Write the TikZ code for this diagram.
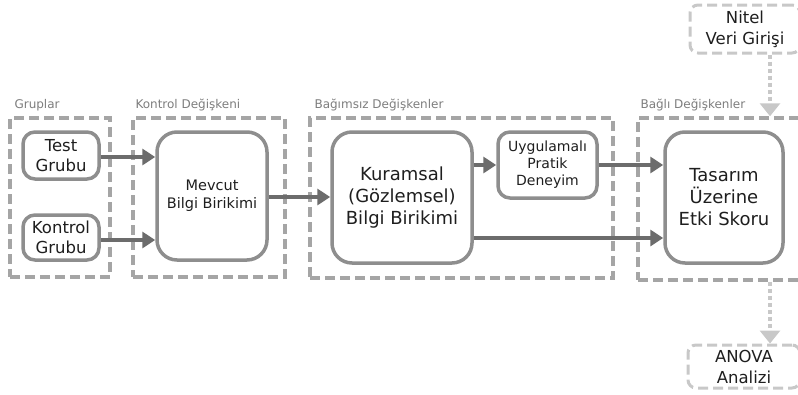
\documentclass[tikz,border=0pt]{standalone}
\usepackage{fontspec}
\setmainfont{DejaVu Sans}
\definecolor{arrowgray}{RGB}{108,108,108}
\definecolor{boxgray}{RGB}{142,142,142}
\definecolor{groupgray}{RGB}{165,165,165}
\definecolor{lightgray}{RGB}{200,200,200}
\definecolor{labelgray}{RGB}{125,125,125}
\definecolor{textgray}{RGB}{30,30,30}
\usetikzlibrary{arrows.meta}

\begin{document}
\begin{tikzpicture}[x=1pt,y=-1pt,
    varbox/.style={draw=boxgray,line width=3.5pt,rounded corners=12pt,align=center,
      text=textgray,inner sep=0pt,font=\fontsize{16.5}{19.5}\selectfont},
    groupbox/.style={draw=groupgray,line width=3.5pt,dash pattern=on 10pt off 5pt,
      minimum width=#1,inner sep=0pt},
    datbox/.style={draw=lightgray,line width=3pt,dash pattern=on 10pt off 5pt,rounded corners=8pt,
      align=center,text=textgray,inner sep=0pt,font=\fontsize{16.5}{21}\selectfont},
    grouplabel/.style={anchor=base west,text=labelgray,font=\fontsize{12}{14}\selectfont},
    flow/.style={draw=arrowgray,line width=3.5pt,-{Triangle[length=13pt,width=16pt]}},
    dotflow/.style={draw=lightgray,line width=4pt,dash pattern=on 4pt off 3pt,
      -{Triangle[length=13pt,width=20pt]}}]
  \useasboundingbox (0,0) rectangle (798,394);
  \clip (0,0) rectangle (798,394);
  % groups
  \node[groupbox=100pt,minimum height=159pt] (gruplar) at (60,197.5) {};
  \node[groupbox=152pt,minimum height=159pt] (kontrolg) at (209,197.5) {};
  \node[groupbox=303pt,minimum height=160pt] (bagimsiz) at (461.5,198) {};
  \node[groupbox=172pt,minimum height=162pt] (bagli) at (724,199) {};
  \node[grouplabel] at (11,108) {Gruplar};
  \node[grouplabel] at (132,108) {Kontrol Değişkeni};
  \node[grouplabel] at (311,108) {Bağımsız Değişkenler};
  \node[grouplabel] at (637,108) {Bağlı Değişkenler};
  % variables
  \node[varbox,minimum width=76pt,minimum height=47pt] (test) at (61,155.5) {Test\\Grubu};
  \node[varbox,minimum width=76pt,minimum height=45pt] (kontrol) at (61,237.5) {Kontrol\\Grubu};
  \node[varbox,minimum width=110pt,minimum height=128pt,rounded corners=20pt,
    font=\fontsize{14.5}{18}\selectfont] (mevcut) at (212,196) {Mevcut\\Bilgi Birikimi};
  \node[varbox,minimum width=140pt,minimum height=131pt,rounded corners=20pt,
    font=\fontsize{18}{22}\selectfont] (kuramsal) at (402,197.5) {Kuramsal\\(Gözlemsel)\\Bilgi Birikimi};
  \node[varbox,minimum width=99pt,minimum height=66pt,
    font=\fontsize{14}{17}\selectfont] (pratik) at (547.5,165) {Uygulamalı\\Pratik\\Deneyim};
  \node[varbox,minimum width=118pt,minimum height=131pt,rounded corners=20pt,
    font=\fontsize{18}{22}\selectfont] (skor) at (724,197.5) {Tasarım\\Üzerine\\Etki Skoru};
  \node[datbox,minimum width=110pt,minimum height=48pt] (nitel) at (745,29) {Nitel\\Veri Girişi};
  \node[datbox,minimum width=112pt,minimum height=43pt] (anova) at (744,366.5) {ANOVA\\Analizi};
  % connectors
  \draw[flow] (test.east |- 0,157) -- (mevcut.west |- 0,157);
  \draw[flow] (kontrol.east |- 0,240) -- (mevcut.west |- 0,240);
  \draw[flow] (mevcut.east |- 0,197) -- (kuramsal.west |- 0,197);
  \draw[flow] (kuramsal.east |- 0,165) -- (pratik.west |- 0,165);
  \draw[flow] (pratik.east |- 0,165) -- (skor.west |- 0,165);
  \draw[flow] (kuramsal.east |- 0,238) -- (skor.west |- 0,238);
  \coordinate (dotx) at (770,0);
  \draw[dotflow] (nitel.south -| dotx) -- (bagli.north -| dotx);
  \draw[dotflow] (bagli.south -| dotx) -- (anova.north -| dotx);
\end{tikzpicture}
\end{document}
